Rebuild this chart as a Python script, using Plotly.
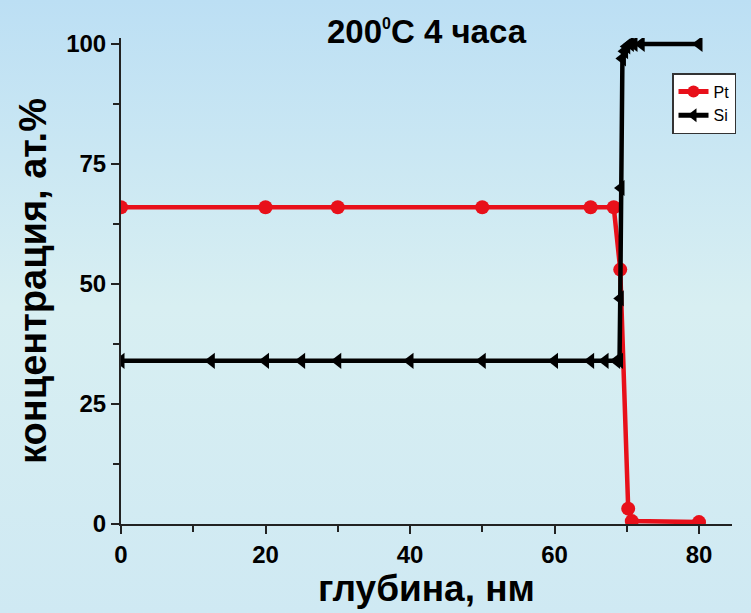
import base64
import plotly.graph_objects as go

# ---- data ----
pt_depth = [0, 20, 30, 50, 65, 68.2, 69.1, 70.2, 70.7, 80]
pt_conc = [66, 66, 66, 66, 66, 66, 53, 3.2, 0.6, 0.4]

si_depth = [0, 12.5, 20, 25, 30, 40, 50, 60, 65, 67, 68.6, 69.0, 69.1, 69.2, 69.4,
            69.7, 70.0, 70.5, 71.0, 72.0, 80]
si_conc = [34, 34, 34, 34, 34, 34, 34, 34, 34, 34, 34, 34, 47, 70, 97,
           98.5, 99.5, 100, 100, 100, 100]

x_ticks = [0, 20, 40, 60, 80]
y_ticks = [0, 25, 50, 75, 100]

title_text = "200<sup><span style='font-size:16px'>0</span></sup>C 4 часа"
x_title = "глубина, нм"
y_title = "концентрация, ат.%"

# ---- layout geometry ----
W, H = 751, 613
L, R, T, B = 121, 19, 38, 89
pw, ph = W - L - R, H - T - B

FONT = "Liberation Sans, Arial, sans-serif"
RED = "#e8101a"

svg = (
    '<svg xmlns="http://www.w3.org/2000/svg" width="751" height="613">'
    '<defs><linearGradient id="g" x1="0" y1="0" x2="0" y2="1">'
    '<stop offset="0" stop-color="#bcdff4"/>'
    '<stop offset="0.5" stop-color="#d8eff2"/>'
    '<stop offset="1" stop-color="#cfe9f3"/>'
    '</linearGradient></defs>'
    '<rect width="751" height="613" fill="url(#g)"/></svg>'
)
bg_src = "data:image/svg+xml;base64," + base64.b64encode(svg.encode()).decode()

fig = go.Figure()
fig.add_trace(go.Scatter(
    x=pt_depth, y=pt_conc, name="Pt", mode="lines+markers",
    line=dict(color=RED, width=4.5),
    marker=dict(symbol="circle", size=14, color=RED),
))
fig.add_trace(go.Scatter(
    x=si_depth, y=si_conc, name="Si", mode="lines+markers",
    line=dict(color="black", width=4.5),
    marker=dict(symbol="triangle-left", size=14, color="black"),
))

fig.update_layout(
    width=W, height=H,
    margin=dict(l=L, r=R, t=T, b=B, pad=0),
    paper_bgcolor="rgba(0,0,0,0)",
    plot_bgcolor="rgba(0,0,0,0)",
    font=dict(family=FONT, color="black"),
    title=dict(text="<b>" + title_text + "</b>", x=0.5, xanchor="center",
               xref="paper", y=1 - 31 / H, yref="container", yanchor="middle",
               font=dict(size=33, family=FONT, color="black")),
    showlegend=True,
    legend=dict(x=(672 - L) / pw, y=(524 - 73) / ph, xanchor="left", yanchor="top",
                bgcolor="white", bordercolor="#333333", borderwidth=1.5,
                font=dict(size=16, family=FONT),
                itemsizing="constant"),
    images=[dict(source=bg_src, xref="paper", yref="paper",
                 x=-L / pw, y=1 + T / ph, sizex=W / pw, sizey=H / ph,
                 xanchor="left", yanchor="top", sizing="stretch", layer="below")],
)

fig.update_xaxes(
    range=[0, (W - R - L) / 7.225], showgrid=False, zeroline=False,
    showline=True, linecolor="#222222", linewidth=2,
    ticks="outside", ticklen=8, tickwidth=1.5, tickcolor="#222222",
    tickvals=x_ticks, ticktext=[f"<b>{v}</b>" for v in x_ticks],
    tickfont=dict(size=24, family=FONT),
    minor=dict(tickvals=[10, 30, 50, 70], ticks="outside", ticklen=6, tickwidth=1.5,
               tickcolor="#222222"),
    title=dict(text="<b>" + x_title + "</b>", font=dict(size=37, family=FONT), standoff=6),
)
fig.update_yaxes(
    range=[0, 101.25], showgrid=False, zeroline=False,
    showline=True, linecolor="#222222", linewidth=2,
    ticks="outside", ticklen=8, tickwidth=1.5, tickcolor="#222222",
    tickvals=y_ticks, ticktext=[f"<b>{v}</b>" for v in y_ticks],
    tickfont=dict(size=24, family=FONT),
    minor=dict(tickvals=[12.5, 37.5, 62.5, 87.5], ticks="outside", ticklen=6,
               tickwidth=1.5, tickcolor="#222222"),
    title=dict(text="<b>" + y_title + "</b>", font=dict(size=38, family=FONT), standoff=8),
)

fig.write_html("out.html")
